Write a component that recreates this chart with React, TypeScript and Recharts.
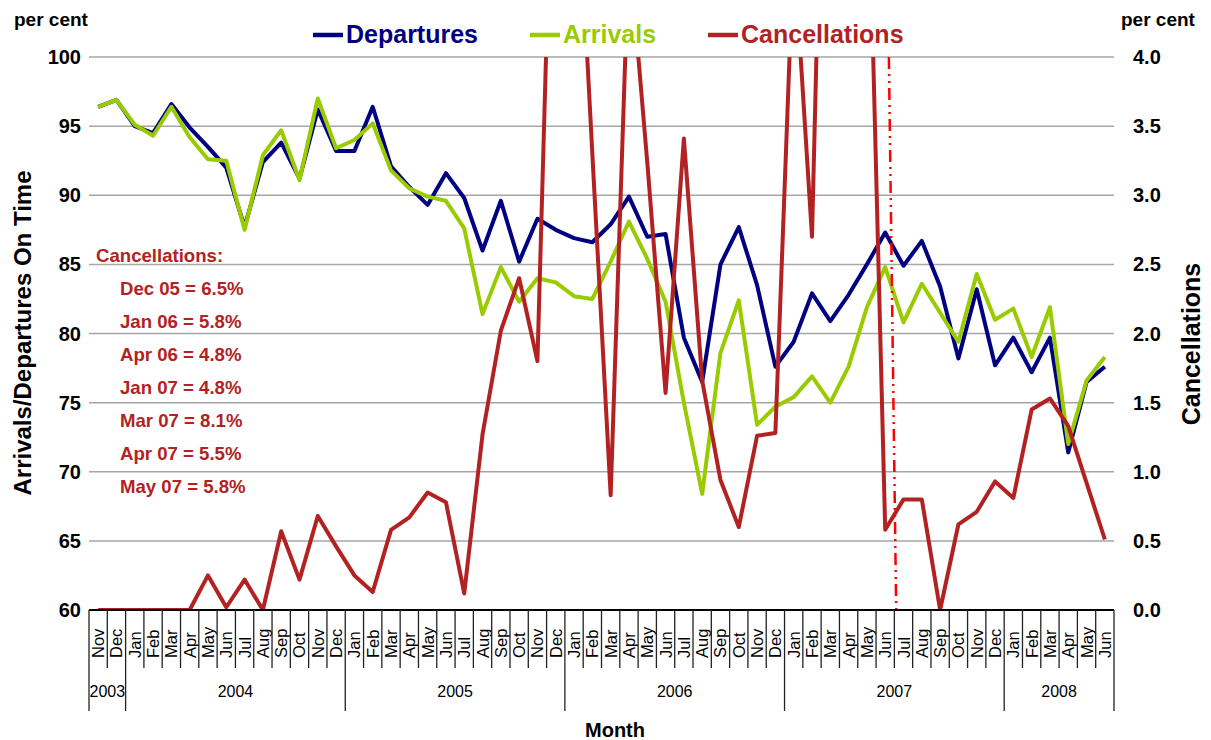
import React from 'react';
import { LineChart, Line, XAxis, YAxis, CartesianGrid, ReferenceLine } from 'recharts';

const months = [
  'Nov', 'Dec',
  'Jan', 'Feb', 'Mar', 'Apr', 'May', 'Jun', 'Jul', 'Aug', 'Sep', 'Oct', 'Nov', 'Dec',
  'Jan', 'Feb', 'Mar', 'Apr', 'May', 'Jun', 'Jul', 'Aug', 'Sep', 'Oct', 'Nov', 'Dec',
  'Jan', 'Feb', 'Mar', 'Apr', 'May', 'Jun', 'Jul', 'Aug', 'Sep', 'Oct', 'Nov', 'Dec',
  'Jan', 'Feb', 'Mar', 'Apr', 'May', 'Jun', 'Jul', 'Aug', 'Sep', 'Oct', 'Nov', 'Dec',
  'Jan', 'Feb', 'Mar', 'Apr', 'May', 'Jun',
];
const years = [
  '2003', '2003',
  '2004', '2004', '2004', '2004', '2004', '2004', '2004', '2004', '2004', '2004', '2004', '2004',
  '2005', '2005', '2005', '2005', '2005', '2005', '2005', '2005', '2005', '2005', '2005', '2005',
  '2006', '2006', '2006', '2006', '2006', '2006', '2006', '2006', '2006', '2006', '2006', '2006',
  '2007', '2007', '2007', '2007', '2007', '2007', '2007', '2007', '2007', '2007', '2007', '2007',
  '2008', '2008', '2008', '2008', '2008', '2008',
];
const departures = [
  96.4, 96.9,
  95.0, 94.5, 96.6, 94.9, 93.5, 92.0, 87.7, 92.4, 93.8, 91.2, 96.2, 93.2,
  93.2, 96.4, 92.1, 90.6, 89.3, 91.6, 89.8, 86.0, 89.6, 85.2, 88.3, 87.5,
  86.9, 86.6, 87.9, 89.9, 87.0, 87.2, 79.7, 76.5, 85.0, 87.7, 83.5, 77.6,
  79.4, 82.9, 80.9, 82.8, 85.0, 87.3, 84.9, 86.7, 83.4, 78.2, 83.2, 77.7,
  79.7, 77.2, 79.7, 71.4, 76.5, 77.6,
];
const arrivals = [
  96.4, 96.9,
  95.1, 94.3, 96.4, 94.2, 92.6, 92.5, 87.5, 92.9, 94.7, 91.1, 97.0, 93.4,
  94.0, 95.2, 91.8, 90.5, 89.9, 89.6, 87.6, 81.4, 84.8, 82.3, 84.0, 83.7,
  82.7, 82.5, 85.2, 88.1, 85.4, 82.3, 75.0, 68.4, 78.6, 82.4, 73.4, 74.7,
  75.4, 76.9, 75.0, 77.6, 81.9, 84.8, 80.8, 83.6, 81.5, 79.4, 84.3, 81.0,
  81.8, 78.3, 81.9, 72.0, 76.6, 78.3,
];
const cancellations = [
  0, 0,
  0, 0, 0, 0, 0.25, 0.02, 0.22, 0, 0.57, 0.22, 0.68, 0.46,
  0.25, 0.13, 0.58, 0.67, 0.85, 0.78, 0.12, 1.27, 2.02, 2.4, 1.8, 6.5,
  5.8, 3.3, 0.83, 4.8, 3.24, 1.57, 3.41, 1.66, 0.94, 0.6, 1.26, 1.28,
  4.8, 2.7, 8.1, 5.5, 5.8, 0.58, 0.8, 0.8, 0, 0.62, 0.71, 0.93,
  0.81, 1.45, 1.53, 1.33, 0.92, 0.51,
];
const leftTicks = [60, 65, 70, 75, 80, 85, 90, 95, 100];
const rightTicks = [0, 0.5, 1, 1.5, 2, 2.5, 3, 3.5, 4];
const seriesNames = ['Departures', 'Arrivals', 'Cancellations'];
const seriesColors = ['#000080', '#99CC00', '#B22222'];
const noteTitle = 'Cancellations:';
const notes = [
  'Dec 05 = 6.5%',
  'Jan 06 = 5.8%',
  'Apr 06 = 4.8%',
  'Jan 07 = 4.8%',
  'Mar 07 = 8.1%',
  'Apr 07 = 5.5%',
  'May 07 = 5.8%',
];
// vertical marker between Jun 07 and Jul 07 (index units)
const markerTop = 43.2;
const markerBottom = 43.6;

const W = 1211;
const H = 740;
const LEFT_W = 89;
const RIGHT_W = 97;
const X_H = 130;
const TOP = 57;
const PLOT_L = LEFT_W;
const PLOT_R = W - RIGHT_W;
const CAT_W = (PLOT_R - PLOT_L) / months.length;
const FONT = '"Liberation Sans", Arial, sans-serif';

const data = months.map((m, i) => ({
  idx: i,
  month: m,
  year: years[i],
  dep: departures[i],
  arr: arrivals[i],
  can: cancellations[i],
}));
const idxTicks = data.map((d) => d.idx);

const XTick = (props: any) => {
  const { x, y, payload } = props;
  const i = payload.value as number;
  const left = x - CAT_W / 2;
  const isYearStart = i === 0 || years[i] !== years[i - 1];
  let n = 0;
  if (isYearStart) {
    let j = i;
    while (j < years.length && years[j] === years[i]) { j++; n++; }
  }
  const tx = x + 6;
  const ty = y + 48;
  return (
    <g>
      <line x1={left} x2={left} y1={y} y2={isYearStart ? y + 101 : y + 58} stroke="#222" strokeWidth={1.3} />
      {i === months.length - 1 && (
        <line x1={x + CAT_W / 2} x2={x + CAT_W / 2} y1={y} y2={y + 101} stroke="#222" strokeWidth={1.3} />
      )}
      <text x={tx} y={ty} transform={`rotate(-90 ${tx} ${ty})`} fontSize={16.5} fontFamily={FONT} fill="#000" textAnchor="start">
        {months[i]}
      </text>
      {isYearStart && (
        <text x={left + (n * CAT_W) / 2} y={y + 87} fontSize={16} fontFamily={FONT} fill="#000" textAnchor="middle">
          {years[i]}
        </text>
      )}
    </g>
  );
};

export default function App() {
  const legendX = [313, 530, 708];
  return (
    <div style={{ position: 'absolute', left: 0, top: 0, width: W, height: H, background: '#fff' }}>
      <LineChart width={W} height={H} data={data} margin={{ top: TOP, right: 0, bottom: 0, left: 0 }}>
        <CartesianGrid yAxisId="left" horizontal vertical={false} stroke="#A6A6A6" strokeWidth={1.5} />
        <XAxis
          dataKey="idx"
          type="number"
          domain={[-0.5, months.length - 0.5]}
          ticks={idxTicks}
          interval={0}
          tick={<XTick />}
          tickLine={false}
          tickSize={0}
          tickMargin={0}
          height={X_H}
          axisLine={{ stroke: '#000', strokeWidth: 2 }}
        />
        <YAxis
          yAxisId="left"
          domain={[60, 100]}
          ticks={leftTicks}
          width={LEFT_W}
          axisLine={false}
          tickLine={false}
          tickSize={0}
          tickMargin={8}
          tick={{ fontSize: 20, fontWeight: 'bold', fill: '#000', fontFamily: FONT }}
        />
        <YAxis
          yAxisId="right"
          orientation="right"
          domain={[0, 4]}
          ticks={rightTicks}
          allowDataOverflow
          width={RIGHT_W}
          axisLine={false}
          tickLine={false}
          tickSize={0}
          tickMargin={19}
          tickFormatter={(v: number) => v.toFixed(1)}
          tick={{ fontSize: 20, fontWeight: 'bold', fill: '#000', fontFamily: FONT, textAnchor: 'start' }}
        />
        <Line yAxisId="left" dataKey="dep" name={seriesNames[0]} stroke={seriesColors[0]} strokeWidth={4} dot={false} activeDot={false} strokeLinejoin="round" isAnimationActive={false} />
        <Line yAxisId="left" dataKey="arr" name={seriesNames[1]} stroke={seriesColors[1]} strokeWidth={4} dot={false} activeDot={false} strokeLinejoin="round" isAnimationActive={false} />
        <Line yAxisId="right" dataKey="can" name={seriesNames[2]} stroke={seriesColors[2]} strokeWidth={4} dot={false} activeDot={false} strokeLinejoin="round" isAnimationActive={false} />
        <ReferenceLine
          yAxisId="left"
          segment={[{ x: markerTop, y: 100 }, { x: markerBottom, y: 60 }]}
          stroke="#FF0000"
          strokeWidth={2.5}
          strokeDasharray="12 5 2 5 2 5"
        />
      </LineChart>
      <svg width={W} height={H} style={{ position: 'absolute', left: 0, top: 0, pointerEvents: 'none' }} fontFamily={FONT}>
        <text x={14} y={26} fontSize={19} fontWeight="bold" fill="#000">per cent</text>
        <text x={1121} y={26} fontSize={19} fontWeight="bold" fill="#000">per cent</text>
        {seriesNames.map((n, k) => (
          <g key={n}>
            <line x1={legendX[k]} x2={legendX[k] + 30} y1={35} y2={35} stroke={seriesColors[k]} strokeWidth={4.5} />
            <text x={legendX[k] + 33} y={43} fontSize={25} fontWeight="bold" fill={seriesColors[k]}>{n}</text>
          </g>
        ))}
        <text x={96} y={262} fontSize={18.6} fontWeight="bold" fill="#B22222">{noteTitle}</text>
        {notes.map((t, k) => (
          <text key={t} x={120} y={295 + 33 * k} fontSize={18.6} fontWeight="bold" fill="#B22222">{t}</text>
        ))}
        <text x={31} y={333} transform="rotate(-90 31 333)" fontSize={24} fontWeight="bold" fill="#000" textAnchor="middle">
          Arrivals/Departures On Time
        </text>
        <text x={1200} y={344} transform="rotate(-90 1200 344)" fontSize={25} fontWeight="bold" fill="#000" textAnchor="middle">
          Cancellations
        </text>
        <text x={615} y={737} fontSize={20} fontWeight="bold" fill="#000" textAnchor="middle">Month</text>
      </svg>
    </div>
  );
}
